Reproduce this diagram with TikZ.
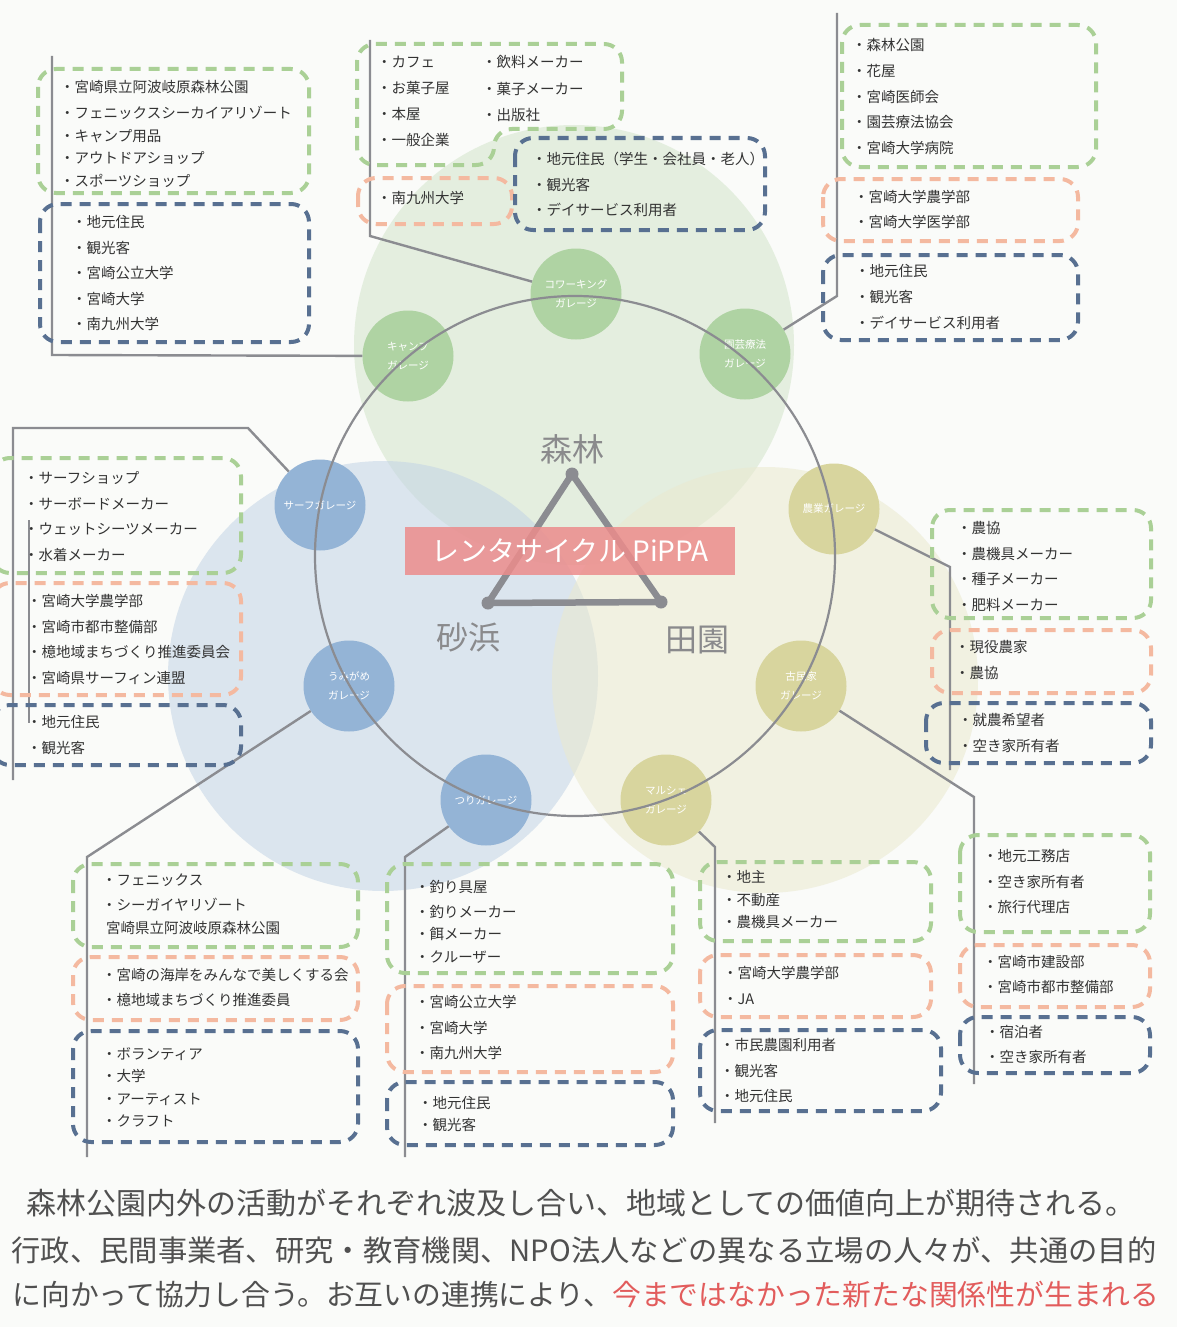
\documentclass[tikz,border=0pt]{standalone}
\usepackage{fontspec}
\setmainfont{Noto Sans CJK JP}
\usepackage{tikz}
\usetikzlibrary{calc}

\definecolor{paper}{RGB}{250,251,249}
\definecolor{forestArea}{RGB}{210,229,202}
\definecolor{beachArea}{RGB}{194,211,229}
\definecolor{fieldArea}{RGB}{234,233,207}
\definecolor{forestDot}{RGB}{175,211,163}
\definecolor{beachDot}{RGB}{148,180,214}
\definecolor{fieldDot}{RGB}{216,213,158}
\definecolor{linkGray}{RGB}{139,140,145}
\definecolor{areaGray}{RGB}{138,138,140}
\definecolor{listGray}{RGB}{51,51,51}
\definecolor{boxGreen}{RGB}{170,208,150}
\definecolor{boxOrange}{RGB}{244,185,160}
\definecolor{boxBlue}{RGB}{88,112,145}
\definecolor{bannerRed}{RGB}{236,140,140}
\definecolor{storyGray}{RGB}{80,80,80}
\definecolor{storyRed}{RGB}{226,92,92}

\begin{document}
\begin{tikzpicture}[
    x=1pt, y=-1pt,
    % 车库节点样式
    garage style/.style={
        circle,                % 圆形节点
        minimum size=91pt,     % 直径
        inner sep=0pt,
        text=white,
        align=center,
        font=\fontsize{10.5}{19}\selectfont
    },
    forest garage/.style={garage style, fill=forestDot},
    beach garage/.style={garage style, fill=beachDot},
    field garage/.style={garage style, fill=fieldDot},
    % 连线样式
    link style/.style={
        draw=linkGray,         % 灰色
        line width=2.4pt
    },
    % 虚线框样式
    box style/.style={
        line width=4pt,
        dash pattern=on 11pt off 8pt,
        rounded corners=18pt
    },
    green box/.style={box style, draw=boxGreen},
    orange box/.style={box style, draw=boxOrange},
    blue box/.style={box style, draw=boxBlue},
    % 列表文字样式
    list style/.style={
        anchor=west,
        inner sep=0pt,
        align=left,
        text=listGray,
        font=\fontsize{14.5}{25.5}\selectfont
    },
    tight list/.style={list style, font=\fontsize{14.5}{22.5}\selectfont},
    area label/.style={text=areaGray, font=\fontsize{32}{32}\selectfont},
    story style/.style={text=storyGray, inner sep=0pt, font=\fontsize{30}{30}\selectfont}
]

% 背景
\fill[paper] (0,0) rectangle (1177,1327);
\useasboundingbox (0,0) rectangle (1177,1327);

% 三个区域
\fill[forestArea, fill opacity=0.55] (574,345) circle (220pt);
\fill[beachArea, fill opacity=0.55] (383,676) circle (215pt);
\fill[fieldArea, fill opacity=0.55] (765,680) circle (213pt);

% 定义车库节点
\node[forest garage] (cowork) at (576,294) {コワーキング\\ガレージ};
\node[forest garage] (camp) at (408,356) {キャンプ\\ガレージ};
\node[forest garage] (herb) at (745,354) {園芸療法\\ガレージ};
\node[beach garage] (surf) at (320,505) {サーフガレージ};
\node[beach garage] (turtle) at (349,686) {うみがめ\\ガレージ};
\node[beach garage] (fish) at (486,800) {つりガレージ};
\node[field garage] (farm) at (834,509) {農業ガレージ};
\node[field garage] (oldhouse) at (801,686) {古民家\\ガレージ};
\node[field garage] (marche) at (666,800) {マルシェ\\ガレージ};

% 外圈
\coordinate (ringC) at (575,556);
\draw[linkGray, line width=2.2pt] (ringC) circle (260pt);

% 三角形
\coordinate (triTop) at (572,474);
\coordinate (triLeft) at (488,603);
\coordinate (triRight) at (661,602);
\draw[linkGray, line width=6.5pt, line join=round] (triTop) -- (triLeft) -- (triRight) -- cycle;
\fill[linkGray] (triTop) circle (6.5pt) (triLeft) circle (6.5pt) (triRight) circle (6.5pt);

% 中央横幅
\node[fill=bannerRed, fill opacity=0.85, text opacity=1, text=white,
      minimum width=330pt, minimum height=48pt, inner sep=0pt,
      font=\fontsize{28}{28}\selectfont] (pippa) at (570,551) {レンタサイクル PiPPA};

\node[area label] (forestLabel) at (572,449) {森林};
\node[area label] (beachLabel) at (468,637) {砂浜};
\node[area label] (fieldLabel) at (697,640) {田園};

% 连线
\coordinate (campBend) at (52,355);   \coordinate (campEnd) at (52,56);
\coordinate (coworkBend) at (370,236); \coordinate (coworkEnd) at (370,40);
\coordinate (herbBend) at (837,296);  \coordinate (herbEnd) at (837,13);
\coordinate (surfBend) at (248,428);  \coordinate (surfCorner) at (13,428);
\coordinate (surfEnd) at (13,780);
\coordinate (surfInnerTop) at (29,520); \coordinate (surfInnerEnd) at (29,723);
\coordinate (farmBend) at (950,567);  \coordinate (farmEnd) at (950,770);
\coordinate (oldBend) at (974,797);   \coordinate (oldEnd) at (974,1084);
\coordinate (marcheBend) at (715,847); \coordinate (marcheEnd) at (715,1123);
\coordinate (fishBend) at (405,857);  \coordinate (fishEnd) at (405,1157);
\coordinate (turtleBend) at (87,857); \coordinate (turtleEnd) at (87,1157);

\draw[link style] (camp) -- (campBend) -- (campEnd);
\draw[link style] (cowork) -- (coworkBend) -- (coworkEnd);
\draw[link style] (herb) -- (herbBend) -- (herbEnd);
\draw[link style] (surf) -- (surfBend) -- (surfCorner) -- (surfEnd);
\draw[link style, line width=2pt] (surfInnerTop) -- (surfInnerEnd);
\draw[link style] (farm) -- (farmBend) -- (farmEnd);
\draw[link style] (oldhouse) -- (oldBend) -- (oldEnd);
\draw[link style] (marche) -- (marcheBend) -- (marcheEnd);
\draw[link style] (fish) -- (fishBend) -- (fishEnd);
\draw[link style] (turtle) -- (turtleBend) -- (turtleEnd);

% 虚线框 (森林)
\draw[green box] (38,69) rectangle (309,193);
\draw[blue box] (40,204) rectangle (309,342);
\draw[green box] (357,165) -- (357,44) -- (622,44) -- (622,129) -- (494,129) -- (494,165) -- cycle;
\draw[orange box] (358,178) rectangle (512,224);
\draw[blue box] (515,138) rectangle (765,230);
\draw[green box] (842,25) rectangle (1096,167);
\draw[orange box] (823,179) rectangle (1078,241);
\draw[blue box] (823,255) rectangle (1078,340);

% 虚线框 (砂浜)
\draw[green box] (-8,458) rectangle (241,573);
\draw[orange box] (-8,583) rectangle (241,695);
\draw[blue box] (-8,705) rectangle (241,765);
\draw[green box] (73,864) rectangle (358,947);
\draw[orange box] (73,957) rectangle (358,1020);
\draw[blue box] (73,1031) rectangle (358,1142);
\draw[green box] (387,864) rectangle (673,973);
\draw[orange box] (387,986) rectangle (673,1072);
\draw[blue box] (387,1082) rectangle (673,1145);

% 虚线框 (田園)
\draw[green box] (932,510) rectangle (1151,618);
\draw[orange box] (932,630) rectangle (1151,693);
\draw[blue box] (926,703) rectangle (1151,763);
\draw[green box] (700,862) rectangle (931,941);
\draw[orange box] (700,955) rectangle (931,1017);
\draw[blue box] (700,1030) rectangle (941,1111);
\draw[green box] (960,835) rectangle (1150,932);
\draw[orange box] (960,945) rectangle (1150,1007);
\draw[blue box] (960,1017) rectangle (1150,1073);

% 列表文字 (森林)
\node[tight list] (campGreen) at (60,134) {・宮崎県立阿波岐原森林公園\\[3.5pt]・フェニックスシーカイアリゾート\\・キャンプ用品\\・アウトドアショップ\\・スポーツショップ};
\node[list style] (campBlue) at (72,273) {・地元住民\\・観光客\\・宮崎公立大学\\・宮崎大学\\・南九州大学};
\node[list style, font=\fontsize{14.5}{26}\selectfont] (coworkGreenA) at (377,101) {・カフェ\\・お菓子屋\\・本屋\\・一般企業};
\node[list style, font=\fontsize{14.5}{26.5}\selectfont] (coworkGreenB) at (482,88.5) {・飲料メーカー\\・菓子メーカー\\・出版社};
\node[list style] (coworkOrange) at (377,198) {・南九州大学};
\node[list style] (coworkBlue) at (532,184.5) {・地元住民（学生・会社員・老人）\\・観光客\\・デイサービス利用者};
\node[list style, font=\fontsize{14.5}{25.8}\selectfont] (herbGreen) at (852,96.5) {・森林公園\\・花屋\\・宮崎医師会\\・園芸療法協会\\・宮崎大学病院};
\node[list style, font=\fontsize{14.5}{25}\selectfont] (herbOrange) at (854,209.5) {・宮崎大学農学部\\・宮崎大学医学部};
\node[list style, font=\fontsize{14.5}{26}\selectfont] (herbBlue) at (855,297) {・地元住民\\・観光客\\・デイサービス利用者};

% 列表文字 (砂浜)
\node[list style, font=\fontsize{14.5}{25.7}\selectfont] (surfGreen) at (24,516.5) {・サーフショップ\\・サーボードメーカー\\・ウェットシーツメーカー\\・水着メーカー};
\node[list style, font=\fontsize{14.5}{25.7}\selectfont] (surfOrange) at (27,639.5) {・宮崎大学農学部\\・宮崎市都市整備部\\・檍地域まちづくり推進委員会\\・宮崎県サーフィン連盟};
\node[list style, font=\fontsize{14.5}{26}\selectfont] (surfBlue) at (27,735) {・地元住民\\・観光客};
\node[tight list] (turtleGreen) at (102,904.5) {・フェニックス\\[2.5pt]・シーガイヤリゾート\\\hspace{4pt}宮崎県立阿波岐原森林公園};
\node[list style, font=\fontsize{14.5}{25}\selectfont] (turtleOrange) at (102,987.5) {・宮崎の海岸をみんなで美しくする会\\・檍地域まちづくり推進委員};
\node[list style, font=\fontsize{14.5}{22.3}\selectfont] (turtleBlue) at (102,1087.5) {・ボランティア\\・大学\\・アーティスト\\・クラフト};
\node[tight list] (fishGreen) at (415,921.5) {・釣り具屋\\[2.5pt]・釣りメーカー\\・餌メーカー\\・クルーザー};
\node[list style] (fishOrange) at (415,1027.5) {・宮崎公立大学\\・宮崎大学\\・南九州大学};
\node[list style, font=\fontsize{14.5}{22}\selectfont] (fishBlue) at (418,1114) {・地元住民\\・観光客};

% 列表文字 (田園)
\node[list style, font=\fontsize{14.5}{25.7}\selectfont] (farmGreen) at (957,566.5) {・農協\\・農機具メーカー\\・種子メーカー\\・肥料メーカー};
\node[list style, font=\fontsize{14.5}{26}\selectfont] (farmOrange) at (955,660) {・現役農家\\・農協};
\node[list style, font=\fontsize{14.5}{26}\selectfont] (farmBlue) at (958,733) {・就農希望者\\・空き家所有者};
\node[tight list] (marcheGreen) at (722,899.5) {・地主\\・不動産\\・農機具メーカー};
\node[list style, font=\fontsize{14.5}{26}\selectfont] (marcheOrange) at (723,985) {・宮崎大学農学部\\・JA};
\node[list style] (marcheBlue) at (720,1070.5) {・市民農園利用者\\・観光客\\・地元住民};
\node[list style] (oldGreen) at (983,881.5) {・地元工務店\\・空き家所有者\\・旅行代理店};
\node[list style, font=\fontsize{14.5}{25}\selectfont] (oldOrange) at (983,974.5) {・宮崎市建設部\\・宮崎市都市整備部};
\node[list style, font=\fontsize{14.5}{25}\selectfont] (oldBlue) at (985,1044.5) {・宿泊者\\・空き家所有者};

% 说明文字
\node[story style] (story1) at (581,1203) {森林公園内外の活動がそれぞれ波及し合い、地域としての価値向上が期待される。};
\node[story style, font=\fontsize{29.3}{30}\selectfont] (story2) at (584,1250) {行政、民間事業者、研究・教育機関、NPO法人などの異なる立場の人々が、共通の目的};
\node[story style, font=\fontsize{28.8}{30}\selectfont] (story3) at (586,1295) {に向かって協力し合う。お互いの連携により、\textcolor{storyRed}{今まではなかった新たな関係性が生まれる}};

\end{tikzpicture}
\end{document}
